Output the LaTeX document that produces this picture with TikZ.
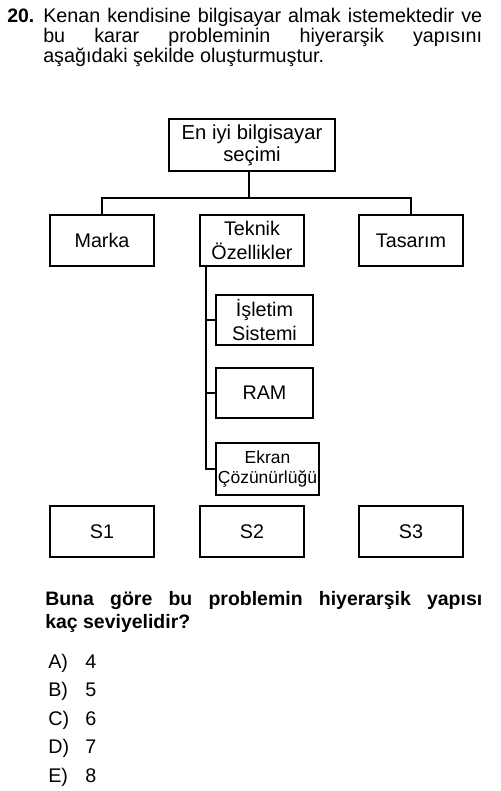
\documentclass[tikz,border=0pt]{standalone}
\usepackage{fontspec}
\setmainfont{Liberation Sans}
\usetikzlibrary{calc}
\begin{document}
\begin{tikzpicture}[x=0.75pt,y=-0.75pt,
  box/.style={draw,line width=1.3pt,inner sep=0pt,align=center,font=\fontsize{14.8}{17.5}\selectfont},
  bigbox/.style={box,minimum width=78pt,minimum height=38.25pt},
  subbox/.style={box,minimum width=72.75pt,minimum height=37.5pt},
  conn/.style={line width=1.3pt},
  txt/.style={inner sep=0pt,anchor=base west,font=\fontsize{14.8}{15}\selectfont},
  qtxt/.style={txt,font=\fontsize{14.6}{15}\selectfont\bfseries}]
\useasboundingbox (0,0) rectangle (500,791);
\fill[white] (0,0) rectangle (500,791);
% header text
\node[qtxt] (num) at (7,23) {20.};
\node[txt] (l1) at (43,23) {\makebox[329.25pt][s]{Kenan kendisine bilgisayar almak istemektedir ve}};
\node[txt] (l2) at (43,43) {\makebox[329.25pt][s]{bu karar probleminin hiyerarşik yapısını}};
\node[txt] (l3) at (43,63) {aşağıdaki şekilde oluşturmuştur.};
% tree
\node[box,minimum width=124.5pt,minimum height=39pt,font=\fontsize{15.2}{16.5}\selectfont] (top) at (252,145) {En iyi bilgisayar\\seçimi};
\node[bigbox] (marka) at (102,240.5) {Marka};
\node[bigbox] (teknik) at (252,240.5) {Teknik\\Özellikler};
\node[bigbox] (tasarim) at (411,240.5) {Tasarım};
\node[subbox] (isletim) at (264.5,320) {İşletim\\Sistemi};
\node[subbox] (ram) at (264.5,393) {RAM};
\node[box,minimum width=77.25pt,minimum height=39pt,font=\fontsize{13.1}{15.5}\selectfont] (ekran) at (267.5,469) {Ekran\\Çözünürlüğü};
\node[bigbox] (s1) at (102,531.5) {S1};
\node[bigbox] (s2) at (252,531.5) {S2};
\node[bigbox] (s3) at (411,531.5) {S3};
\coordinate (bus) at (249,198);
\coordinate (trunk) at ($(teknik.south west)+(7,0)$);
\draw[conn] (top.south -| bus) -- (bus);
\draw[conn] (marka.north) |- (bus) -| (tasarim.north);
\draw[conn] (trunk) |- (ekran.west);
\draw[conn] (trunk |- isletim.west) -- (isletim.west);
\draw[conn] (trunk |- ram.west) -- (ram.west);
% question
\node[qtxt] (q1) at (45,605) {\makebox[327.75pt][s]{Buna göre bu problemin hiyerarşik yapısı}};
\node[qtxt] (q2) at (45,628) {kaç seviyelidir?};
\foreach \l/\v [count=\i from 0] in {A/4,B/5,C/6,D/7,E/8} {
  \node[txt] (opt\l) at (48,668+28.5*\i) {\l)};
  \node[txt] (val\l) at (85,668+28.5*\i) {\v};
}
\end{tikzpicture}
\end{document}
